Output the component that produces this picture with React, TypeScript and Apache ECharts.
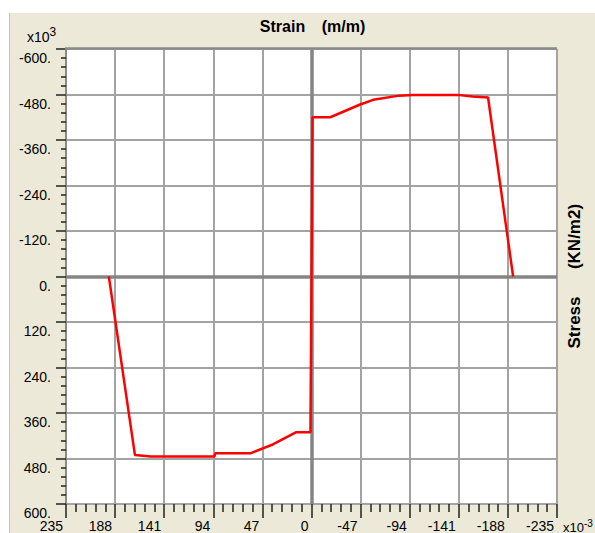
import React, { useEffect, useRef } from "react";
import * as echarts from "echarts";

// Strain (x10^-3 m/m) and stress (x10^3 KN/m2)
const strain = [194, 169, 154, 93, 92, 58, 37, 15, 1, -1, -18, -46, -59, -84, -97, -140, -154, -169, -193];
const stress = [0, 471, 475, 475, 466, 466, 443, 411, 411, -420, -420, -453, -466, -477, -479, -479, -475, -472, 0];

const xMin = -235;
const xMax = 235;
const xStep = 47;
const yMin = -600;
const yMax = 600;
const yStep = 120;

const titleParts = ["Strain", "(m/m)"];
const sideParts = ["Stress", "(KN/m2)"];

const FONT = "'Liberation Sans', Arial, sans-serif";

export default function App() {
  const ref = useRef<HTMLDivElement>(null);

  useEffect(() => {
    const chart = echarts.init(ref.current!, null, { renderer: "svg" });
    const points = strain.map((s, i) => [s, stress[i]]);

    chart.setOption({
      animation: false,
      backgroundColor: "#ECE9D8",
      grid: {
        left: 66,
        top: 49,
        width: 491,
        height: 458,
        show: true,
        backgroundColor: "#ffffff",
        borderWidth: 0,
        containLabel: false,
      },
      xAxis: {
        type: "value",
        min: xMin,
        max: xMax,
        interval: xStep,
        inverse: true,
        axisLine: { show: false, onZero: false },
        axisTick: { show: true, length: 14, lineStyle: { color: "#222", width: 1.5 } },
        minorTick: { show: true, splitNumber: 5, length: 8, lineStyle: { color: "#222", width: 1.5 } },
        splitLine: { show: true, lineStyle: { color: "#a3a3a3", width: 2 } },
        axisLabel: {
          show: true,
          margin: 15,
          align: "right",
          padding: [0, 3, 0, 0],
          fontFamily: FONT,
          fontSize: 14,
          color: "#000",
          showMinLabel: true,
          showMaxLabel: true,
          formatter: (v: number) => `${v}`,
        },
      },
      yAxis: {
        type: "value",
        min: yMin,
        max: yMax,
        interval: yStep,
        inverse: true,
        axisLine: { show: true, onZero: false, lineStyle: { color: "#8a8a8a", width: 2 } },
        axisTick: { show: true, length: 10, lineStyle: { color: "#222", width: 1.5 } },
        minorTick: { show: true, splitNumber: 5, length: 5, lineStyle: { color: "#222", width: 1.5 } },
        splitLine: { show: true, lineStyle: { color: "#a3a3a3", width: 2 } },
        axisLabel: {
          show: true,
          margin: 15,
          verticalAlign: "top",
          padding: [2, 0, 0, 0],
          fontFamily: FONT,
          fontSize: 14,
          color: "#000",
          showMinLabel: true,
          showMaxLabel: true,
          formatter: (v: number) => `${v}.`,
        },
      },
      series: [
        {
          type: "line",
          data: points,
          z: 10,
          symbol: "none",
          lineStyle: { color: "#ff0000", width: 2.5 },
          markLine: {
            silent: true,
            symbol: "none",
            z: 5,
            label: { show: false },
            lineStyle: { color: "#858585", width: 3.5, type: "solid" },
            data: [{ xAxis: 0 }, { yAxis: 0 }],
          },
        },
      ],
      graphic: [
        { type: "rect", shape: { x: 0, y: 0, width: 595, height: 13 }, style: { fill: "#ffffff" }, z: -10 },
        { type: "rect", shape: { x: 0, y: 0, width: 9, height: 533 }, style: { fill: "#ffffff" }, z: -10 },
        { type: "line", shape: { x1: 9.5, y1: 13, x2: 9.5, y2: 533 }, style: { stroke: "#c9c6b8", lineWidth: 1 } },
        { type: "line", shape: { x1: 65, y1: 48.5, x2: 557, y2: 48.5 }, style: { stroke: "#8a8a8a", lineWidth: 2.5 }, z: 20 },
        {
          type: "text", x: 282.5, y: 26,
          style: { text: titleParts[0], fontFamily: FONT, fontWeight: "bold", fontSize: 16, fill: "#000", align: "center", verticalAlign: "middle" },
        },
        {
          type: "text", x: 343.5, y: 26,
          style: { text: titleParts[1], fontFamily: FONT, fontWeight: "bold", fontSize: 16, fill: "#000", align: "center", verticalAlign: "middle" },
        },
        {
          type: "text", x: 574, y: 322.5, rotation: Math.PI / 2,
          style: { text: sideParts[0], fontFamily: FONT, fontWeight: "bold", fontSize: 17, fill: "#000", align: "center", verticalAlign: "middle" },
        },
        {
          type: "text", x: 574, y: 236.5, rotation: Math.PI / 2,
          style: { text: sideParts[1], fontFamily: FONT, fontWeight: "bold", fontSize: 17, fill: "#000", align: "center", verticalAlign: "middle" },
        },
        {
          type: "text", x: 27, y: 37,
          style: { text: "x10", fontFamily: FONT, fontSize: 14, fill: "#000", align: "left", verticalAlign: "middle" },
        },
        {
          type: "text", x: 49.5, y: 32,
          style: { text: "3", fontFamily: FONT, fontSize: 12, fill: "#000", align: "left", verticalAlign: "middle" },
        },
        {
          type: "text", x: 563, y: 527,
          style: { text: "x10", fontFamily: FONT, fontSize: 13, fill: "#000", align: "left", verticalAlign: "middle" },
        },
        {
          type: "text", x: 584, y: 523,
          style: { text: "-3", fontFamily: FONT, fontSize: 10, fill: "#000", align: "left", verticalAlign: "middle" },
        },
      ],
    });

    return () => chart.dispose();
  }, []);

  return (
    <div style={{ position: "absolute", left: 0, top: 0, width: 595, height: 533, background: "#fff" }}>
      <div ref={ref} style={{ width: 595, height: 533 }} />
    </div>
  );
}
